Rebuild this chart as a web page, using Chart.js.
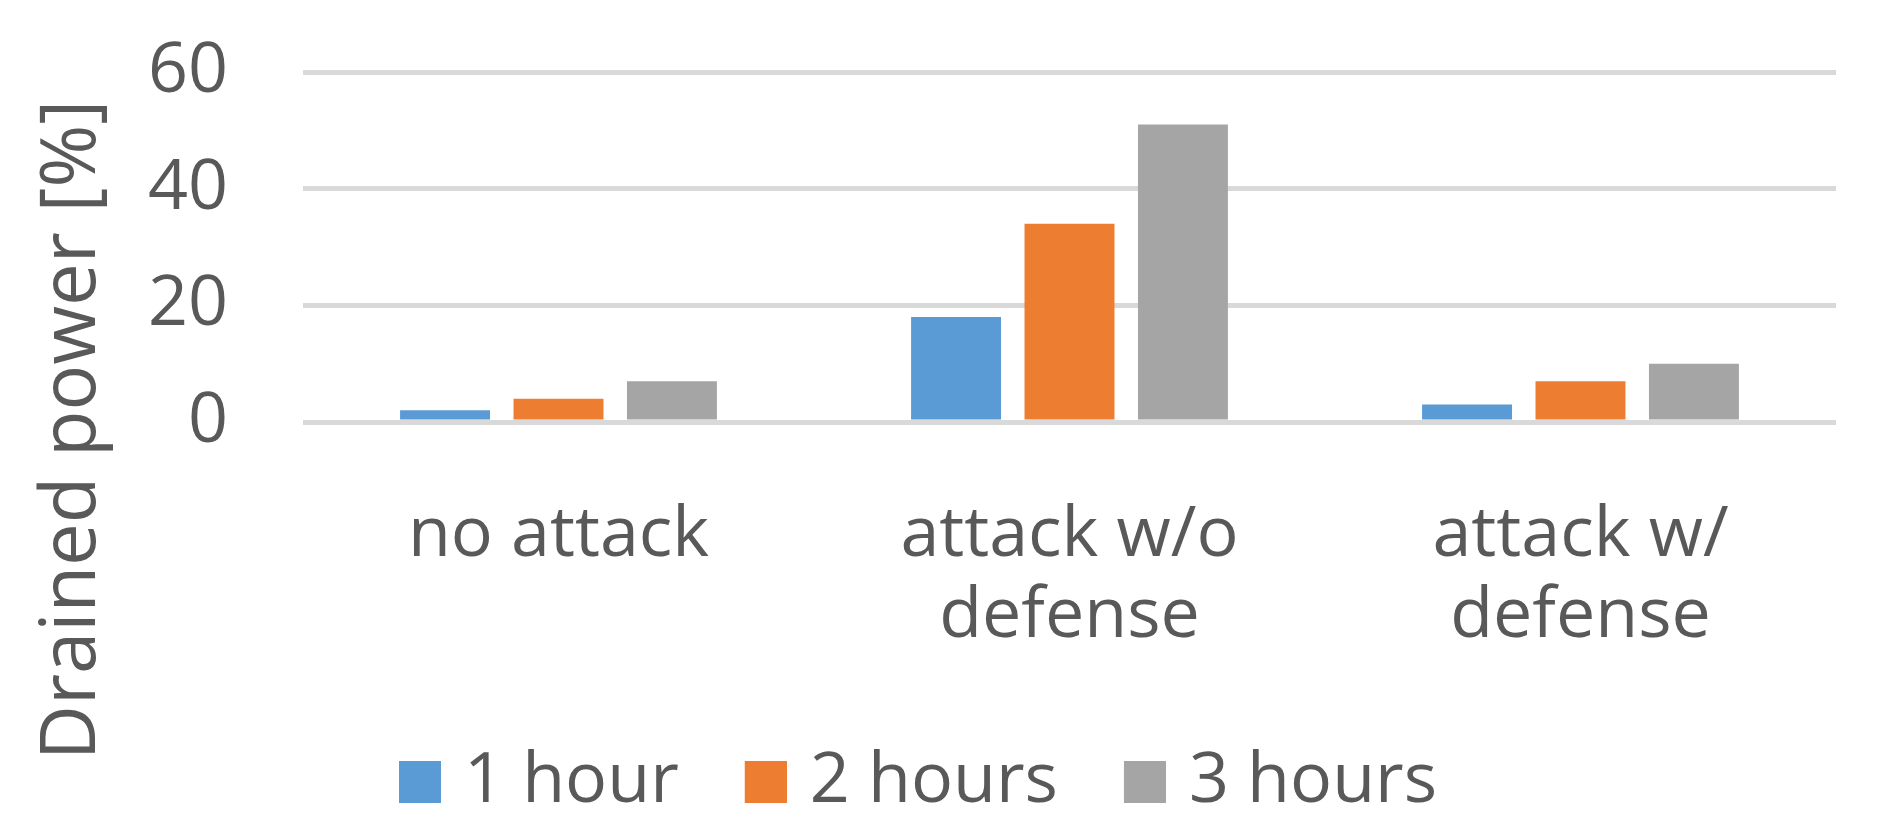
<!DOCTYPE html>
<html>
<head>
<meta charset="utf-8">
<script src="https://cdn.jsdelivr.net/npm/chart.js@4/dist/chart.umd.min.js"></script>
<style>
  html, body { margin: 0; padding: 0; background: #ffffff; }
  #wrap { width: 1884px; height: 837px; position: relative; }
</style>
</head>
<body>
<div id="wrap"><canvas id="c"></canvas></div>
<script>
const categories = ["no attack", ["attack w/o", "defense"], ["attack w/", "defense"]];
const seriesNames = ["1 hour", "2 hours", "3 hours"];
const seriesColors = ["#5B9BD5", "#ED7D31", "#A5A5A5"];
const oneHour = [2, 18, 3];
const twoHours = [4, 34, 7];
const threeHours = [7, 51, 10];
const yTicks = [0, 20, 40, 60];
const yTitle = "Drained power [%]";

const FONT = "'Open Sans', 'Noto Sans', sans-serif";
const TEXT = "#595959";

// legend swatch: 42x42 square, drawn so it starts at the legend item's left edge
function makeBox(color) {
  const c = document.createElement('canvas');
  c.width = 54; c.height = 42;
  const g = c.getContext('2d');
  g.fillStyle = color;
  g.fillRect(12, 0, 42, 42);
  return c;
}
const legendBoxes = seriesColors.map(makeBox);

const yTitlePlugin = {
  id: 'yTitlePlugin',
  afterDraw(chart) {
    const ctx = chart.ctx;
    ctx.save();
    ctx.translate(95, 430);
    ctx.rotate(-Math.PI / 2);
    ctx.font = "76px " + FONT;
    ctx.fillStyle = TEXT;
    ctx.textAlign = "center";
    ctx.textBaseline = "alphabetic";
    ctx.fillText(yTitle, 0, 0);
    ctx.restore();
  }
};

new Chart(document.getElementById('c'), {
  type: 'bar',
  data: {
    labels: categories,
    datasets: [
      { label: seriesNames[0], data: oneHour, backgroundColor: seriesColors[0] },
      { label: seriesNames[1], data: twoHours, backgroundColor: seriesColors[1] },
      { label: seriesNames[2], data: threeHours, backgroundColor: seriesColors[2] }
    ]
  },
  options: {
    responsive: true,
    maintainAspectRatio: false,
    animation: false,
    datasets: { bar: { categoryPercentage: 0.666, barPercentage: 0.793 } },
    layout: { padding: { top: 72, right: 48, bottom: 10, left: 0 } },
    plugins: {
      tooltip: { enabled: false },
      legend: {
        position: 'bottom',
        align: 'center',
        labels: {
          color: TEXT,
          font: { family: FONT, size: 70 },
          usePointStyle: true,
          boxWidth: 30,
          boxHeight: 42,
          padding: 66,
          generateLabels(chart) {
            const items = Chart.defaults.plugins.legend.labels.generateLabels(chart);
            items.forEach((it, i) => { it.pointStyle = legendBoxes[i]; });
            return items;
          }
        }
      }
    },
    scales: {
      x: {
        grid: { display: false },
        border: { display: false },
        ticks: {
          color: TEXT,
          font: { family: FONT, size: 70, lineHeight: 1.15 },
          padding: 66,
          maxRotation: 0,
          autoSkip: false
        },
        afterFit(scale) { scale.height = 259; }
      },
      y: {
        min: 0,
        max: 60,
        afterBuildTicks(scale) { scale.ticks = yTicks.map(v => ({ value: v })); },
        grid: { color: '#D9D9D9', lineWidth: 5, drawTicks: true, tickLength: 75, tickColor: 'rgba(0,0,0,0)' },
        border: { display: false },
        ticks: {
          color: TEXT,
          font: { family: FONT, size: 70 },
          padding: 0
        },
        afterFit(scale) { scale.width = 303; }
      }
    }
  },
  plugins: [yTitlePlugin]
});
</script>
</body>
</html>
